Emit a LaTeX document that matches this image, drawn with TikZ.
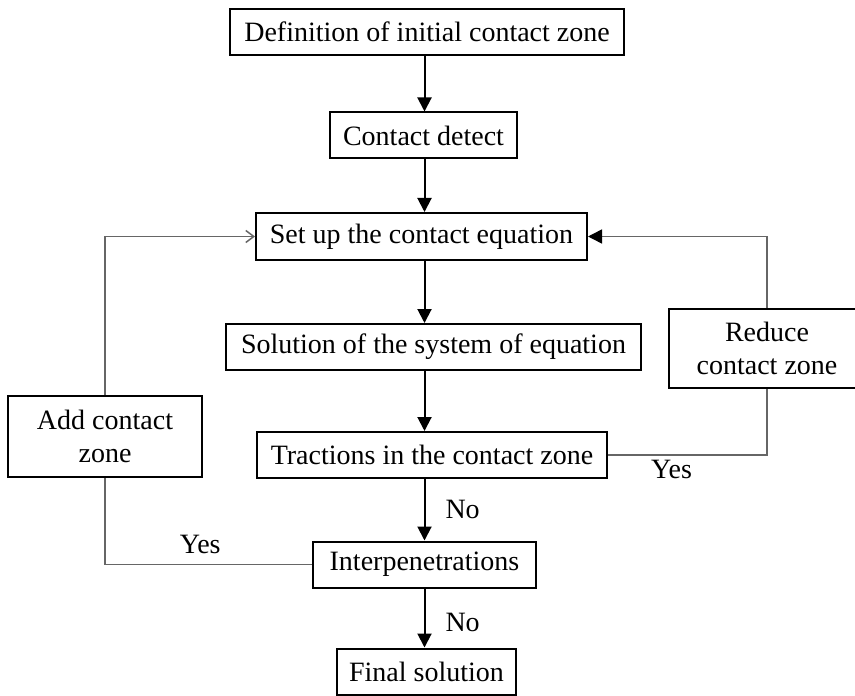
\documentclass[tikz,border=0pt]{standalone}
\usepackage{fontspec}
\setmainfont{Liberation Serif}
\usetikzlibrary{arrows.meta,%
	positioning}
\tikzset{
	box/.style={draw, line width=1pt, minimum height=23pt, inner sep=0pt, align=center, font=\fontsize{14}{16.5}\selectfont},
	flow/.style={line width=1pt, -{Triangle[length=7pt,width=7pt]}},
	back/.style={draw=black!60, line width=0.75pt},
	lbl/.style={inner sep=2pt, font=\fontsize{14}{16.5}\selectfont}
}

\begin{document}
\begin{tikzpicture}[x=0.5pt, y=-0.5pt]
			\useasboundingbox (0,0) rectangle (855,695);
			\node[box, minimum width=197pt] (def) at (427,32) {Definition of initial contact zone};
			\node[box, minimum width=93.5pt] (detect) at (423.5,135.5) {Contact detect};
			\node[box, minimum width=165.5pt, minimum height=23.5pt] (setup) at (421.5,236.5) {Set up the contact equation};
			\node[box, minimum width=207.5pt] (solve) at (433.5,347) {Solution of the system of equation};
			\node[box, minimum width=175pt] (tract) at (432,455) {Tractions in the contact zone};
			\node[box, minimum width=111.5pt] (inter) at (424.5,564.5) {Interpenetrations};
			\node[box, minimum width=89.5pt] (final) at (426.5,671.5) {Final solution};
			\node[box, minimum width=97pt, minimum height=40.5pt] (add) at (105,436.5) {Add contact\\zone};
			\node[box, minimum width=98pt, minimum height=39.5pt] (reduce) at (767,348.5) {Reduce\\contact zone};
			\draw[flow] (def.south -| inter) -- (detect.north -| inter);
			\draw[flow] (detect.south -| inter) -- (setup.north -| inter);
			\draw[flow] (setup.south -| inter) -- (solve.north -| inter);
			\draw[flow] (solve.south -| inter) -- (tract.north -| inter);
			\draw[flow] (tract.south -| inter) -- node[lbl, right=8pt] {No} (inter);
			\draw[flow] (inter) -- node[lbl, right=8pt, yshift=-2pt] {No} (final.north -| inter);
			%loops back to the equation
			\draw[back] (tract.east) -| node[lbl, pos=0.2, below] {Yes} (reduce.south);
			\draw[back, -{Triangle[length=7pt,width=7pt,black]}] (reduce.north) |- (setup.east);
			\draw[back] (add.south) |- node[lbl, pos=0.73, above=3pt] {Yes} (inter.west);
			\draw[back, -{Straight Barb[length=4pt,width=6pt]}] (add.north) |- (setup.west);
\end{tikzpicture}
\end{document}
